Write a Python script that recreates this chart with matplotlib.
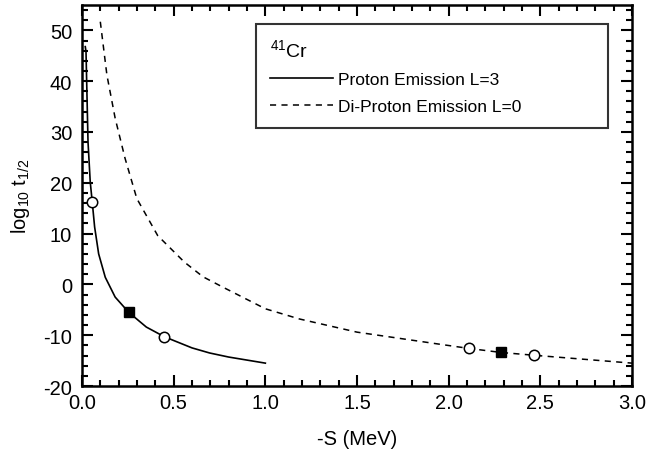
import matplotlib
matplotlib.use("Agg")
import matplotlib.pyplot as plt
from matplotlib.ticker import MultipleLocator, FormatStrFormatter

plt.rcParams['font.family'] = ['Liberation Sans', 'DejaVu Sans']
plt.rcParams['mathtext.fontset'] = 'custom'
plt.rcParams['mathtext.rm'] = 'Liberation Sans'
plt.rcParams['mathtext.it'] = 'Liberation Sans'
plt.rcParams['axes.unicode_minus'] = False

# proton emission L=3 (solid)
p_s = [0.018, 0.022, 0.033, 0.045, 0.056, 0.069, 0.091, 0.127, 0.181, 0.255, 0.351, 0.449, 0.6, 0.696, 0.8, 1.0]
p_t = [46.8, 45.8, 28.0, 20.2, 16.2, 11.3, 6.0, 1.4, -2.5, -5.5, -8.4, -10.3, -12.5, -13.5, -14.3, -15.5]

# di-proton emission L=0 (dashed)
d_s = [0.10, 0.136, 0.181, 0.235, 0.299, 0.413, 0.558, 0.66, 0.766, 1.0, 1.185, 1.5, 1.936, 2.109, 2.286, 2.466, 3.0]
d_t = [51.7, 41.2, 32.7, 24.8, 16.9, 9.6, 4.4, 1.5, -0.5, -4.8, -6.8, -9.4, -11.7, -12.6, -13.4, -13.95, -15.5]

# markers
open_s = [0.056, 0.449, 2.109, 2.466]
open_t = [16.2, -10.3, -12.6, -13.95]
filled_s = [0.255, 2.286]
filled_t = [-5.5, -13.4]

fig = plt.figure(figsize=(6.48, 4.52), dpi=100)
ax = fig.add_axes([0.1265, 0.1438, 0.849, 0.843])

ax.plot(p_s, p_t, color='black', lw=1.2, label='Proton Emission L=3')
ax.plot(d_s, d_t, color='black', lw=1.1, ls=(0, (4, 3.5)), label='Di-Proton Emission L=0')
ax.plot(open_s, open_t, 'o', ms=7.5, mfc='white', mec='black', mew=1.1, ls='none')
ax.plot(filled_s, filled_t, 's', ms=7, color='black', ls='none')

ax.set_xlim(0, 3.0)
ax.set_ylim(-20, 55)
ax.xaxis.set_major_locator(MultipleLocator(0.5))
ax.xaxis.set_minor_locator(MultipleLocator(0.1))
ax.xaxis.set_major_formatter(FormatStrFormatter('%.1f'))
ax.yaxis.set_major_locator(MultipleLocator(10))
ax.yaxis.set_minor_locator(MultipleLocator(2))

ax.tick_params(which='both', direction='in', top=True, right=True, width=1.5,
               labelsize=14.5)
ax.tick_params(axis='x', pad=5)
ax.tick_params(axis='y', pad=7)
ax.tick_params(which='major', length=8)
ax.tick_params(which='minor', length=4)
for sp in ax.spines.values():
    sp.set_linewidth(1.8)

ax.set_xlabel('-S (MeV)', fontsize=14.5, labelpad=12)
ax.set_ylabel(r'log$_{10}$ t$_{1/2}$', fontsize=14.5, labelpad=8)

leg = ax.legend(loc='upper left', bbox_to_anchor=(0.317, 0.667, 0.64, 0.283), mode='expand',
                title=r'$^{41}$Cr', title_fontsize=14, fontsize=12.5, alignment='left',
                handlelength=3.6, handletextpad=0.3, labelspacing=0.65,
                borderpad=0.8, borderaxespad=0, fancybox=False, frameon=True)
leg.get_frame().set_edgecolor('black')
leg.get_frame().set_linewidth(1.5)
leg._legend_box.sep = 9  # room between the 41Cr title and the entries

fig.savefig('out.png', dpi=100)
